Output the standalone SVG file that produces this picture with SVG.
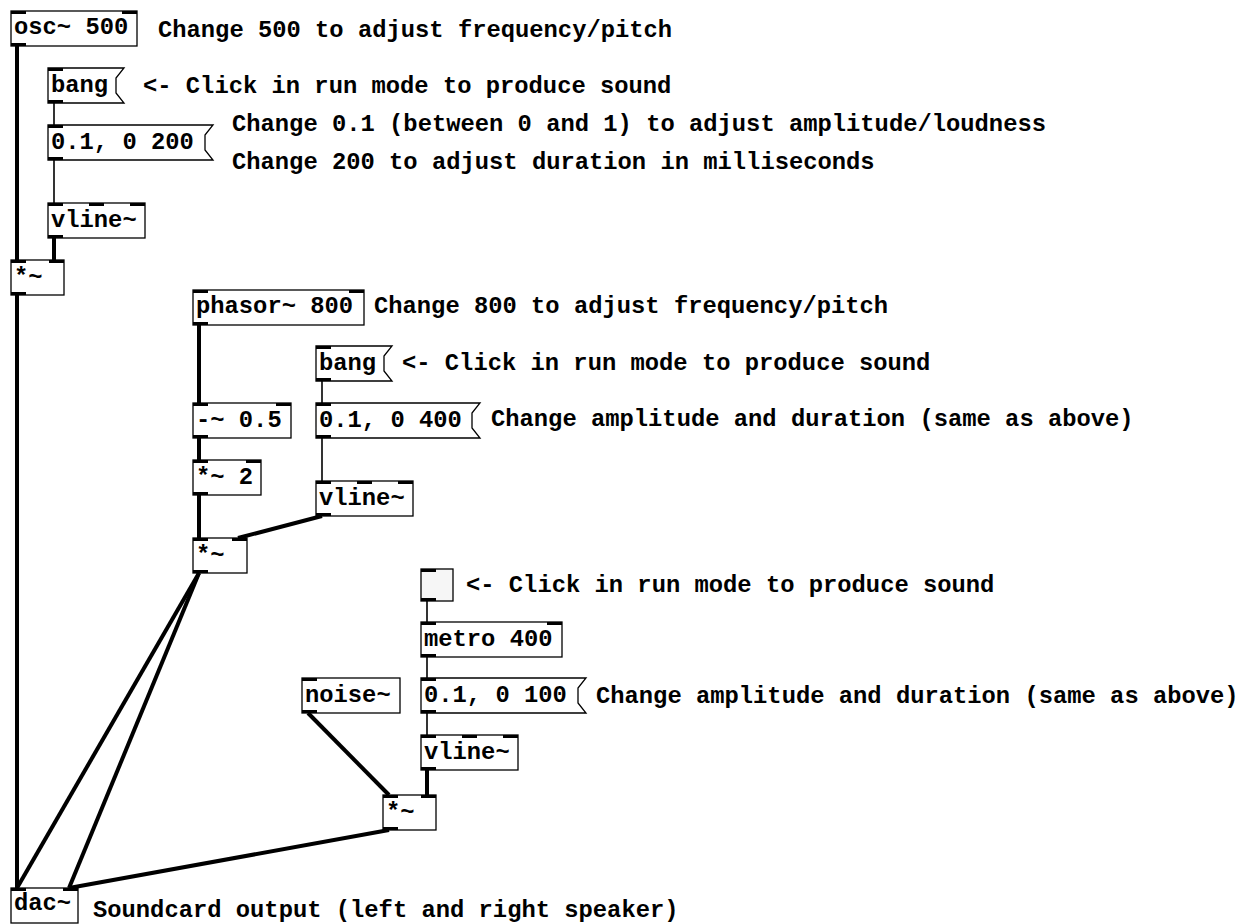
<svg xmlns="http://www.w3.org/2000/svg" width="1244" height="924" viewBox="0 0 1244 924">
<style>
text{font-family:"Liberation Mono","Courier New",monospace;font-weight:bold;font-size:23.8px;fill:#000}
.box{fill:#fff;stroke:#000;stroke-width:1.3}
.tgl{fill:#f6f6f6;stroke:#000;stroke-width:1.3}
.sig{stroke:#000;stroke-width:4;fill:none}
.ctl{stroke:#000;stroke-width:1.6;fill:none}
.io{fill:#000}
</style>
<defs>
<rect id="tab" class="io" width="15" height="3"/>
</defs>
<rect width="1244" height="924" fill="#fff"/>
<g id="connectors">
<line class="sig" x1="17" y1="45" x2="17" y2="260"/>
<line class="sig" x1="54" y1="238" x2="54" y2="260"/>
<line class="sig" x1="17" y1="295" x2="17" y2="888"/>
<line class="sig" x1="199" y1="325" x2="199" y2="403"/>
<line class="sig" x1="199" y1="438" x2="199" y2="460"/>
<line class="sig" x1="199" y1="495" x2="199" y2="538"/>
<line class="sig" x1="322" y1="516" x2="238" y2="538"/>
<line class="sig" x1="199" y1="573" x2="17" y2="888"/>
<line class="sig" x1="199" y1="573" x2="69" y2="888"/>
<line class="sig" x1="308" y1="713" x2="389" y2="795"/>
<line class="sig" x1="427" y1="770" x2="427" y2="795"/>
<line class="sig" x1="389" y1="830" x2="69" y2="888"/>
<line class="ctl" x1="54" y1="103" x2="54" y2="125"/>
<line class="ctl" x1="54" y1="160" x2="54" y2="203"/>
<line class="ctl" x1="322" y1="381" x2="322" y2="403"/>
<line class="ctl" x1="322" y1="438" x2="322" y2="481"/>
<line class="ctl" x1="427" y1="601" x2="427" y2="622"/>
<line class="ctl" x1="427" y1="657" x2="427" y2="678"/>
<line class="ctl" x1="427" y1="713" x2="427" y2="735"/>
</g>
<g id="osc">
<rect class="box" x="11" y="11" width="126" height="35"/>
<use href="#tab" x="11" y="11"/><use href="#tab" x="122" y="11"/><use href="#tab" x="11" y="43"/>
<text x="14" y="34">osc~ 500</text>
</g>
<text id="c1" x="158" y="37">Change 500 to adjust frequency/pitch</text>
<g id="bang1">
<polygon class="box" points="48,68 124,68 116,78 116,93 124,103 48,103"/>
<use href="#tab" x="48" y="68"/><use href="#tab" x="48" y="100"/>
<text x="51" y="92">bang</text>
</g>
<text id="c2" x="143" y="93">&lt;- Click in run mode to produce sound</text>
<g id="msg200">
<polygon class="box" points="48,125 213,125 205,135 205,150 213,160 48,160"/>
<use href="#tab" x="48" y="125"/><use href="#tab" x="48" y="157"/>
<text x="51" y="149">0.1, 0 200</text>
</g>
<text id="c3" x="232" y="131">Change 0.1 (between 0 and 1) to adjust amplitude/loudness</text>
<text id="c4" x="232" y="169">Change 200 to adjust duration in milliseconds</text>
<g id="vlineA">
<rect class="box" x="48" y="203" width="97" height="35"/>
<use href="#tab" x="48" y="203"/><use href="#tab" x="89" y="203"/><use href="#tab" x="130" y="203"/><use href="#tab" x="48" y="235"/>
<text x="51" y="227">vline~</text>
</g>
<g id="mulA">
<rect class="box" x="11" y="260" width="53" height="35"/>
<use href="#tab" x="11" y="260"/><use href="#tab" x="49" y="260"/><use href="#tab" x="11" y="292"/>
<text x="14" y="284">*~</text>
</g>
<g id="phasor">
<rect class="box" x="193" y="290" width="171" height="35"/>
<use href="#tab" x="193" y="290"/><use href="#tab" x="349" y="290"/><use href="#tab" x="193" y="322"/>
<text x="196" y="313">phasor~ 800</text>
</g>
<text id="c5" x="374" y="313">Change 800 to adjust frequency/pitch</text>
<g id="bang2">
<polygon class="box" points="316,346 392,346 384,356 384,371 392,381 316,381"/>
<use href="#tab" x="316" y="346"/><use href="#tab" x="316" y="378"/>
<text x="319" y="370">bang</text>
</g>
<text id="c6" x="402" y="370">&lt;- Click in run mode to produce sound</text>
<g id="sub">
<rect class="box" x="193" y="403" width="98" height="35"/>
<use href="#tab" x="193" y="403"/><use href="#tab" x="276" y="403"/><use href="#tab" x="193" y="435"/>
<text x="196" y="427">-~ 0.5</text>
</g>
<g id="msg400">
<polygon class="box" points="316,403 480,403 472,413 472,428 480,438 316,438"/>
<use href="#tab" x="316" y="403"/><use href="#tab" x="316" y="435"/>
<text x="319" y="427">0.1, 0 400</text>
</g>
<text id="c7" x="491" y="426">Change amplitude and duration (same as above)</text>
<g id="mul2">
<rect class="box" x="193" y="460" width="68" height="35"/>
<use href="#tab" x="193" y="460"/><use href="#tab" x="246" y="460"/><use href="#tab" x="193" y="492"/>
<text x="196" y="484">*~ 2</text>
</g>
<g id="vlineB">
<rect class="box" x="316" y="481" width="97" height="35"/>
<use href="#tab" x="316" y="481"/><use href="#tab" x="357" y="481"/><use href="#tab" x="398" y="481"/><use href="#tab" x="316" y="513"/>
<text x="319" y="505">vline~</text>
</g>
<g id="mulB">
<rect class="box" x="193" y="538" width="54" height="35"/>
<use href="#tab" x="193" y="538"/><use href="#tab" x="232" y="538"/><use href="#tab" x="193" y="570"/>
<text x="196" y="562">*~</text>
</g>
<g id="toggle">
<rect class="tgl" x="421" y="569" width="32" height="32"/>
<use href="#tab" x="421" y="569"/><use href="#tab" x="421" y="598"/>
</g>
<text id="c8" x="466" y="592">&lt;- Click in run mode to produce sound</text>
<g id="metro">
<rect class="box" x="421" y="622" width="141" height="35"/>
<use href="#tab" x="421" y="622"/><use href="#tab" x="547" y="622"/><use href="#tab" x="421" y="654"/>
<text x="424" y="646">metro 400</text>
</g>
<g id="noise">
<rect class="box" x="302" y="678" width="98" height="35"/>
<use href="#tab" x="302" y="678"/><use href="#tab" x="302" y="710"/>
<text x="305" y="702">noise~</text>
</g>
<g id="msg100">
<polygon class="box" points="421,678 586,678 578,688 578,703 586,713 421,713"/>
<use href="#tab" x="421" y="678"/><use href="#tab" x="421" y="710"/>
<text x="424" y="702">0.1, 0 100</text>
</g>
<text id="c9" x="596" y="703">Change amplitude and duration (same as above)</text>
<g id="vlineC">
<rect class="box" x="421" y="735" width="97" height="35"/>
<use href="#tab" x="421" y="735"/><use href="#tab" x="462" y="735"/><use href="#tab" x="503" y="735"/><use href="#tab" x="421" y="767"/>
<text x="424" y="759">vline~</text>
</g>
<g id="mulC">
<rect class="box" x="383" y="795" width="53" height="35"/>
<use href="#tab" x="383" y="795"/><use href="#tab" x="421" y="795"/><use href="#tab" x="383" y="827"/>
<text x="386" y="819">*~</text>
</g>
<g id="dac">
<rect class="box" x="11" y="888" width="67" height="35"/>
<use href="#tab" x="11" y="888"/><use href="#tab" x="63" y="888"/>
<text x="14" y="910">dac~</text>
</g>
<text id="c10" x="93" y="917">Soundcard output (left and right speaker)</text>
</svg>
